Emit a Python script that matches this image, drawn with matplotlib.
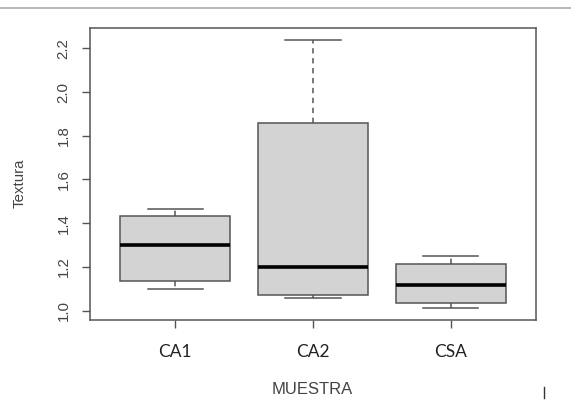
import matplotlib
matplotlib.use("Agg")
import matplotlib.pyplot as plt
from matplotlib.lines import Line2D

categories = ["CA1", "CA2", "CSA"]
whisker_low = [1.099, 1.058, 1.012]
q1 = [1.137, 1.070, 1.037]
median = [1.299, 1.198, 1.118]
q3 = [1.433, 1.858, 1.212]
whisker_high = [1.465, 2.238, 1.250]
yticks = [1.0, 1.2, 1.4, 1.6, 1.8, 2.0, 2.2]

W, H = 571, 401
fig = plt.figure(figsize=(W / 100, H / 100), dpi=100)
ax = fig.add_axes([90 / W, (H - 320) / H, (536 - 90) / W, (320 - 28) / H])

stats = []
for i, c in enumerate(categories):
    stats.append(dict(label=c, whislo=whisker_low[i], q1=q1[i], med=median[i],
                      q3=q3[i], whishi=whisker_high[i], fliers=[]))

edge = "#555555"
ax.bxp(stats, positions=[1, 2, 3], widths=0.8, patch_artist=True, showfliers=False,
       boxprops=dict(facecolor="#d3d3d3", edgecolor=edge, linewidth=1.1),
       medianprops=dict(color="black", linewidth=2.6, solid_capstyle="butt"),
       whiskerprops=dict(color=edge, linewidth=1.1, linestyle=(0, (3.5, 3))),
       capprops=dict(color=edge, linewidth=1.1), capwidths=0.4)

ax.set_xlim(0.38, 3.62)
ax.set_ylim(0.957, 2.293)
ax.set_yticks(yticks)
ax.set_yticklabels([f"{v:.1f}" for v in yticks], rotation=90, va="center",
                   fontsize=10.8, color="#444444", family="Liberation Sans")
ax.set_xticks([1, 2, 3])
ax.set_xticklabels(categories, fontsize=12.5, color="#222222", family="Lato")
ax.tick_params(axis="y", length=6, width=1, color=edge, pad=8)
ax.tick_params(axis="x", length=6, width=1, color=edge, pad=11)
for s in ax.spines.values():
    s.set_color(edge)
    s.set_linewidth(1.1)

fig.text(20 / W, 1 - 183 / H, "Textura", rotation=90, ha="center", va="center",
         fontsize=10.8, color="#444444", family="Liberation Sans")
fig.text(312 / W, 1 - 390 / H, "MUESTRA", ha="center", va="center",
         fontsize=12, color="#444444", family="Liberation Sans")

fig.add_artist(Line2D([0, 1], [1 - 8 / H, 1 - 8 / H], color="#aaaaaa", linewidth=1.2,
                      transform=fig.transFigure))
fig.add_artist(Line2D([544 / W, 544 / W], [1 - 387 / H, 1 - 398 / H], color="#333333",
                      linewidth=1, transform=fig.transFigure))

fig.savefig("out.png", dpi=100)
